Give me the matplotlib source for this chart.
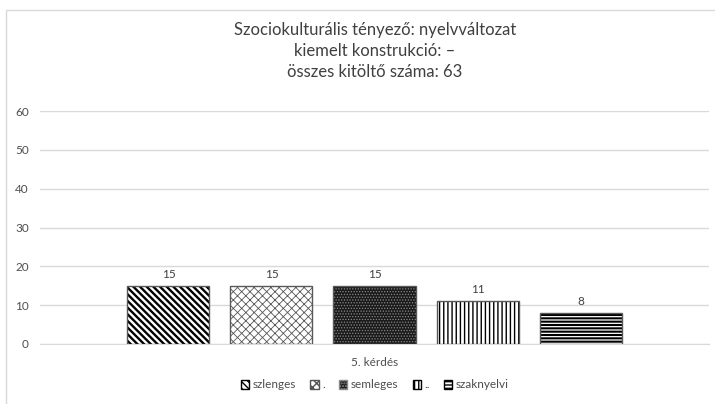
#
# Imports
#
import matplotlib
matplotlib.use("Agg")
import matplotlib.pyplot as plt
from matplotlib.patches import Rectangle, Patch

#
# Chart Data
#
title_lines = ["Szociokulturális tényező: nyelvváltozat",
               "kiemelt konstrukció: –",
               "összes kitöltő száma: 63"]
category = "5. kérdés"
series_names = ["szlenges", ".", "semleges", "..", "szaknyelvi"]
series_values = [15, 15, 15, 11, 8]
y_ticks = [0, 10, 20, 30, 40, 50, 60]

#
# Styles
#
plt.rcParams["font.family"] = ["Lato", "DejaVu Sans"]
grid_color = "#d9d9d9"
text_color = "#4d4d4d"
edge_color = "#595959"
styles = [
    # face, hatch colour, hatch, hatch linewidth
    ("white", "black", "\\\\\\\\\\", 1.7),
    ("white", "#555555", "xxxx", 0.6),
    ("#1a1a1a", "#8a8a8a", "......", 0.6),
    ("white", "black", "||||", 1.0),
    ("white", "black", "-----", 1.5),
]


def hatched_bar(ax, x, h, w, style, **kw):
    face, hcol, hatch, hlw = style
    with plt.rc_context({"hatch.linewidth": hlw}):
        b = ax.bar(x, h, w, color=face, edgecolor=hcol, hatch=hatch, linewidth=0, **kw)
        for p in b:
            if hasattr(p, "set_hatch_linewidth"):
                p.set_hatch_linewidth(hlw)
    ax.bar(x, h, w, fill=False, edgecolor=edge_color, linewidth=1.0, zorder=4)
    return b


#
# Plot
#
fig = plt.figure(figsize=(7.15, 4.04), dpi=100)
fig.patches.append(Rectangle((6 / 715, -0.1), 1.2, 1 - 10 / 404 + 0.1,
                             transform=fig.transFigure, fill=False,
                             edgecolor=grid_color, linewidth=1.0))

ax = fig.add_axes([40 / 715, 1 - 344 / 404, 669 / 715, 233 / 404])
n = len(series_values)
step = 0.154
width = 0.1226
for i, (name, val) in enumerate(zip(series_names, series_values)):
    x = (i - (n - 1) / 2) * step
    hatched_bar(ax, x, val, width, styles[i], zorder=3)
    ax.text(x, val + 1.6, str(val), ha="center", va="bottom",
            fontsize=8.5, color="#404040")

ax.set_xlim(-0.5, 0.5)
ax.set_ylim(0, 60)
ax.set_yticks(y_ticks)
ax.set_xticks([0])
ax.set_xticklabels([category])
ax.tick_params(axis="both", length=0, labelsize=8.5, colors=text_color)
ax.tick_params(axis="y", pad=8)
ax.tick_params(axis="x", pad=9)
ax.yaxis.grid(True, color=grid_color, linewidth=1.0, zorder=0)
ax.set_axisbelow(True)
for s in ["top", "right", "left"]:
    ax.spines[s].set_visible(False)
ax.spines["bottom"].set_color(grid_color)
ax.spines["bottom"].set_zorder(1)

# Title, one line at a time
for k, line in enumerate(title_lines):
    fig.text(375 / 715, 1 - (30 + 21 * k) / 404, line, ha="center", va="center",
             fontsize=12, color="#404040")

# Legend
handles = []
for st in styles:
    handles.append(Patch(facecolor=st[0], edgecolor=st[1], hatch=st[2]))
leg = fig.legend(handles, series_names, loc="center", ncol=n,
                 bbox_to_anchor=(375 / 715, 1 - 385 / 404), frameon=False,
                 fontsize=8.5, handlelength=0.7, handleheight=0.7,
                 handletextpad=0.3, columnspacing=1.2, labelcolor=text_color)

fig.savefig("out.png", dpi=100)
